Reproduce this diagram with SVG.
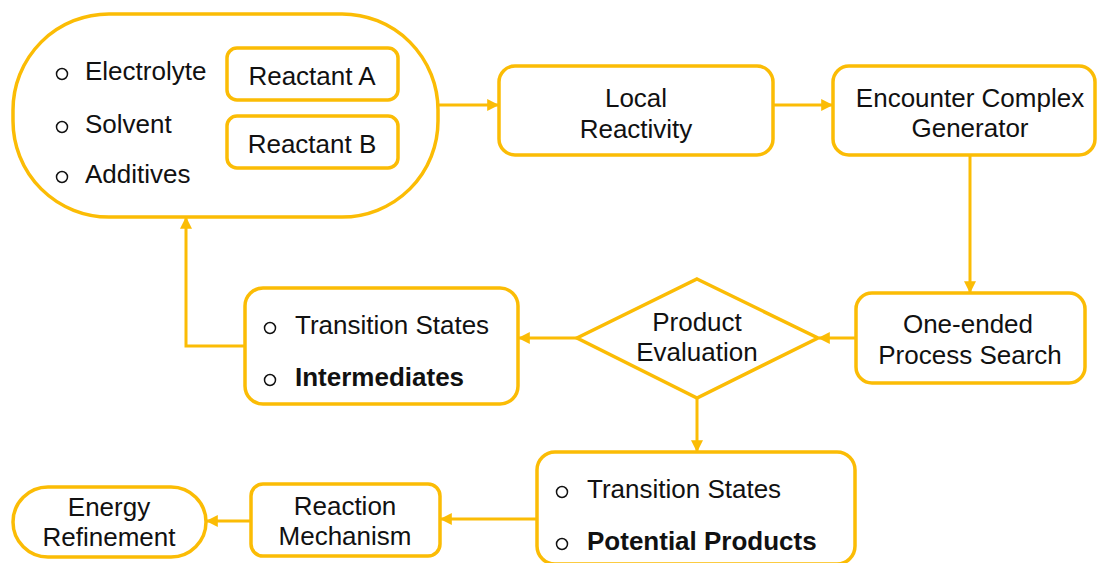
<svg xmlns="http://www.w3.org/2000/svg" width="1097" height="563" viewBox="0 0 1097 563">
<defs>
<style>
.box{fill:#fff;stroke:#FBBC05;stroke-width:3.5}
.ln{fill:none;stroke:#FBBC05;stroke-width:3}
text{font-family:"Liberation Sans",Arial,sans-serif;font-size:26px;fill:#111}
.c{text-anchor:middle}
.b{font-weight:bold}
.bul{fill:none;stroke:#111;stroke-width:1.5}
</style>
<marker id="ah" viewBox="0 0 10 10" refX="9" refY="5" markerWidth="4" markerHeight="4" orient="auto-start-reverse" markerUnits="strokeWidth">
<path d="M0,0 L10,5 L0,10 z" fill="#FBBC05"/>
</marker>
</defs>
<rect width="1097" height="563" fill="#fff"/>
<g id="connectors">
<line class="ln" x1="438" y1="105" x2="498" y2="105" marker-end="url(#ah)"/>
<line class="ln" x1="773" y1="105" x2="832" y2="105" marker-end="url(#ah)"/>
<line class="ln" x1="970" y1="155" x2="970" y2="292" marker-end="url(#ah)"/>
<line class="ln" x1="856" y1="338" x2="819" y2="338" marker-end="url(#ah)"/>
<line class="ln" x1="577" y1="338" x2="519" y2="338" marker-end="url(#ah)"/>
<polyline class="ln" points="245,346 186,346 186,218" marker-end="url(#ah)"/>
<line class="ln" x1="697" y1="398" x2="697" y2="451" marker-end="url(#ah)"/>
<line class="ln" x1="537" y1="519" x2="441" y2="519" marker-end="url(#ah)"/>
<line class="ln" x1="251" y1="521" x2="207" y2="521" marker-end="url(#ah)"/>
</g>
<g id="inputs">
<rect class="box" x="13" y="14" width="425" height="203" rx="96" ry="96"/>
<circle class="bul" cx="62" cy="74" r="5.5"/>
<text x="85" y="80">Electrolyte</text>
<circle class="bul" cx="62" cy="127" r="5.5"/>
<text x="85" y="133">Solvent</text>
<circle class="bul" cx="62" cy="177" r="5.5"/>
<text x="85" y="183">Additives</text>
</g>
<g id="reactantA">
<rect class="box" x="227" y="48" width="171" height="52" rx="10"/>
<text class="c" x="312" y="85">Reactant A</text>
</g>
<g id="reactantB">
<rect class="box" x="227" y="116" width="171" height="52" rx="10"/>
<text class="c" x="312" y="153">Reactant B</text>
</g>
<g id="local">
<rect class="box" x="499" y="66" width="274" height="89" rx="16"/>
<text class="c" x="636" y="107">Local</text>
<text class="c" x="636" y="138">Reactivity</text>
</g>
<g id="encounter">
<rect class="box" x="833" y="66" width="262" height="89" rx="16"/>
<text class="c" x="970" y="107">Encounter Complex</text>
<text class="c" x="970" y="137">Generator</text>
</g>
<g id="oneended">
<rect class="box" x="856" y="293" width="229" height="90" rx="16"/>
<text class="c" x="968" y="333">One-ended</text>
<text class="c" x="970" y="364">Process Search</text>
</g>
<g id="product">
<polygon class="box" points="697,279 818,338 697,398 577,338"/>
<text class="c" x="697" y="331">Product</text>
<text class="c" x="697" y="361">Evaluation</text>
</g>
<g id="intermediates">
<rect class="box" x="245" y="288" width="273" height="116" rx="18"/>
<circle class="bul" cx="270" cy="328" r="5.5"/>
<text x="295" y="334">Transition States</text>
<circle class="bul" cx="270" cy="380" r="5.5"/>
<text class="b" x="295" y="386">Intermediates</text>
</g>
<g id="products">
<rect class="box" x="537" y="452" width="318" height="112" rx="18"/>
<circle class="bul" cx="562" cy="492" r="5.5"/>
<text x="587" y="498">Transition States</text>
<circle class="bul" cx="562" cy="544" r="5.5"/>
<text class="b" x="587" y="550">Potential Products</text>
</g>
<g id="mechanism">
<rect class="box" x="251" y="484" width="189" height="72" rx="12"/>
<text class="c" x="345" y="515">Reaction</text>
<text class="c" x="345" y="545">Mechanism</text>
</g>
<g id="energy">
<rect class="box" x="13" y="487" width="193" height="70" rx="35"/>
<text class="c" x="109" y="516">Energy</text>
<text class="c" x="109" y="546">Refinement</text>
</g>
</svg>
